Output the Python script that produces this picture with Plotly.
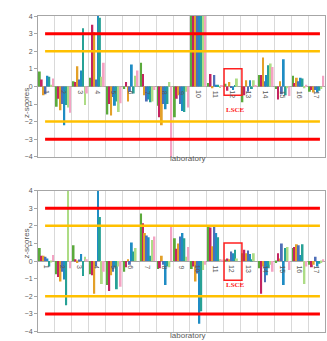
import plotly.graph_objects as go

labs = list(range(1, 18))
series_colors = ["#5BAA3C", "#C42461", "#E3A029", "#4F6FB8", "#1F8CC4", "#27A195", "#ADDC85", "#F4A3C4"]

# top chart: z-scores per series (8 series x 17 labs)
top = [
    [0.85, -1.15, 0.3, 0.5, -1.6, -0.15, 1.35, -1.1, -1.75, 5.0, 0.2, 0.15, -0.9, 0.65, -0.15, 0.6, -0.3],
    [0.4, -0.7, 0.25, 3.5, -1.0, 0.25, 0.7, -1.75, -0.7, 5.0, 0.7, -0.25, -0.5, 0.65, -0.75, 0.2, -0.2],
    [-0.5, -1.35, 1.15, 3.1, -1.65, -0.85, -0.5, -2.2, -0.5, 5.0, -0.1, 0.25, 0.35, 1.65, 0.3, 0.5, -0.35],
    [-0.45, -1.0, 0.4, 0.4, -0.6, -0.3, -0.85, -1.0, -1.0, 5.0, 0.65, -0.05, -0.3, 0.3, -0.45, 0.3, -0.2],
    [0.6, -2.2, 0.9, 4.5, -1.1, 1.25, -0.75, -1.3, -1.4, 5.0, 0.1, -0.2, 0.35, 0.65, 1.55, 0.5, -0.35],
    [0.55, -1.05, 3.3, 3.9, -0.85, -0.4, -0.9, -1.0, -1.45, 5.0, 0.1, 0.05, -0.15, 1.2, -0.5, 0.45, -0.25],
    [0.1, -1.2, -1.05, 0.55, -1.45, 0.6, -0.85, 0.25, -0.3, 5.0, -0.05, 0.45, 0.35, 1.3, -0.1, -0.1, -0.15],
    [0.45, -1.5, -0.4, 1.35, -0.95, 0.9, -0.2, -4.5, -1.2, 5.0, 0.05, 0.0, 0.05, 1.1, -0.55, 0.1, 0.6],
]

# bottom chart
bottom = [
    [0.75, -0.75, 0.9, -0.75, -1.35, -0.6, 2.7, -0.45, 1.3, -0.45, 1.95, 0.05, 0.45, -0.4, -0.1, 0.75, -0.2],
    [0.3, -0.9, 0.1, -0.8, -1.7, -0.35, 2.15, -0.4, 0.7, -0.3, 1.9, 0.15, 0.65, -1.85, 0.45, 0.8, -0.35],
    [0.3, -1.15, -0.1, -1.85, -0.8, 0.1, 1.6, 0.3, 1.0, -1.15, 0.85, 0.1, 0.45, -0.3, 0.15, 0.95, -0.2],
    [0.25, -0.6, 0.05, -0.3, -0.6, -0.2, 1.45, -0.2, 1.4, -0.7, 1.95, 0.55, 0.6, -1.2, 1.0, 0.9, 0.25],
    [0.15, -1.05, 0.4, 4.5, -0.35, 1.05, 1.35, -1.35, 1.6, -3.55, 1.6, 0.45, 0.4, -0.8, -1.35, 0.35, -0.3],
    [-0.3, -2.5, -0.85, 2.5, -1.6, 0.55, 0.3, -0.3, 1.3, -2.85, 1.35, 0.65, 0.1, -0.4, 0.75, 0.95, -0.15],
    [-0.05, 4.5, 0.25, -1.3, -0.3, 0.75, 1.2, -0.35, 0.25, -0.5, 0.1, 0.15, 0.45, -0.2, 0.8, -1.3, -0.1],
    [0.35, -0.4, 0.1, -0.6, -1.45, 0.0, 1.4, 1.95, 0.8, -0.2, 0.05, 0.0, 0.0, -0.6, -0.5, -0.3, 0.1],
]

y_ticks = [-4, -3, -2, -1, 0, 1, 2, 3, 4]
red_levels = [3, -3]
orange_levels = [2, -2]
highlight_lab = 12
highlight_text = "LSCE"
box_y = {"top": (1.0, -0.5), "bottom": (1.03, -1.08)}

W, H = 327, 341
x_dom = [38 / W, 325 / W]
top_dom = [1 - 156 / H, 1 - 12.3 / H]
bot_dom = [1 - 334.5 / H, 1 - 190.5 / H]
xlabel_y = {"top": 1 - 158 / H, "bottom": 1 - 338.5 / H}

fig = go.Figure()
for name, data, xa, ya in [("top", top, "x", "y"), ("bottom", bottom, "x2", "y2")]:
    for s, vals in enumerate(data):
        fig.add_trace(go.Bar(x=labs, y=vals, marker=dict(color=series_colors[s], line=dict(width=0)),
                             xaxis=xa, yaxis=ya, showlegend=False, offsetgroup=str(s)))

axis_font = dict(family="Liberation Sans, Arial, sans-serif", size=7, color="#595959")
common_x = dict(range=[0.5, 17.5], showticklabels=False, tick0=0.5, dtick=1, showgrid=True,
                gridcolor="#D9D9D9", gridwidth=1, zeroline=False, showline=True, linecolor="#A6A6A6",
                mirror=True, ticks="")
common_y = dict(range=[-4, 4], tickvals=y_ticks, ticks="outside", ticklen=3, tickcolor="#A6A6A6",
                tickfont=axis_font, showgrid=False, zeroline=True, zerolinecolor="#A6A6A6",
                zerolinewidth=1, showline=True, linecolor="#A6A6A6", mirror=True)

fig.update_layout(
    width=W, height=H, autosize=False,
    margin=dict(l=0, r=0, t=0, b=0),
    paper_bgcolor="white", plot_bgcolor="white",
    barmode="group", bargap=0.1, bargroupgap=0,
    xaxis=dict(domain=x_dom, anchor="y", **common_x),
    yaxis=dict(domain=top_dom, anchor="x", **common_y),
    xaxis2=dict(domain=x_dom, anchor="y2", **common_x),
    yaxis2=dict(domain=bot_dom, anchor="x2", **common_y),
)

shapes = []
annotations = []
for key, xr, yr, dom in [("top", "x", "y", top_dom), ("bottom", "x2", "y2", bot_dom)]:
    for lv in red_levels:
        shapes.append(dict(type="line", xref=xr, yref=yr, x0=0.92, x1=17.2, y0=lv, y1=lv,
                           line=dict(color="#FF0000", width=3)))
    for lv in orange_levels:
        shapes.append(dict(type="line", xref=xr, yref=yr, x0=0.92, x1=17.2, y0=lv, y1=lv,
                           line=dict(color="#FFC000", width=2.5)))
    y1, y0 = box_y[key]
    shapes.append(dict(type="rect", xref=xr, yref=yr, x0=highlight_lab - 0.48, x1=highlight_lab + 0.58,
                       y0=y0, y1=y1, line=dict(color="#FF2020", width=1.5)))
    annotations.append(dict(x=highlight_lab + 0.17, y=-1.35, xref=xr, yref=yr, text="<b>%s</b>" % highlight_text,
                            showarrow=False, font=dict(family="Liberation Serif, serif", size=7, color="#FF2020")))
    for lab in labs:
        annotations.append(dict(x=lab, y=0, xref=xr, yref=yr, text=str(lab), textangle=90,
                                showarrow=False, yanchor="top", yshift=-2, font=axis_font))
    mid = (dom[0] + dom[1]) / 2
    annotations.append(dict(x=20 / W, y=mid, xref="paper", yref="paper", text="z-scores", textangle=-90,
                            showarrow=False, font=dict(family="Liberation Sans, Arial, sans-serif", size=8, color="#595959")))
    annotations.append(dict(x=188 / W, y=xlabel_y[key], xref="paper", yref="paper", text="laboratory",
                            showarrow=False, yanchor="middle",
                            font=dict(family="Liberation Sans, Arial, sans-serif", size=8, color="#595959")))

fig.update_layout(shapes=shapes, annotations=annotations)
fig.write_html("out.html", config={"displayModeBar": False},
               post_script="document.body.style.margin='0px';document.body.style.overflow='hidden';")
